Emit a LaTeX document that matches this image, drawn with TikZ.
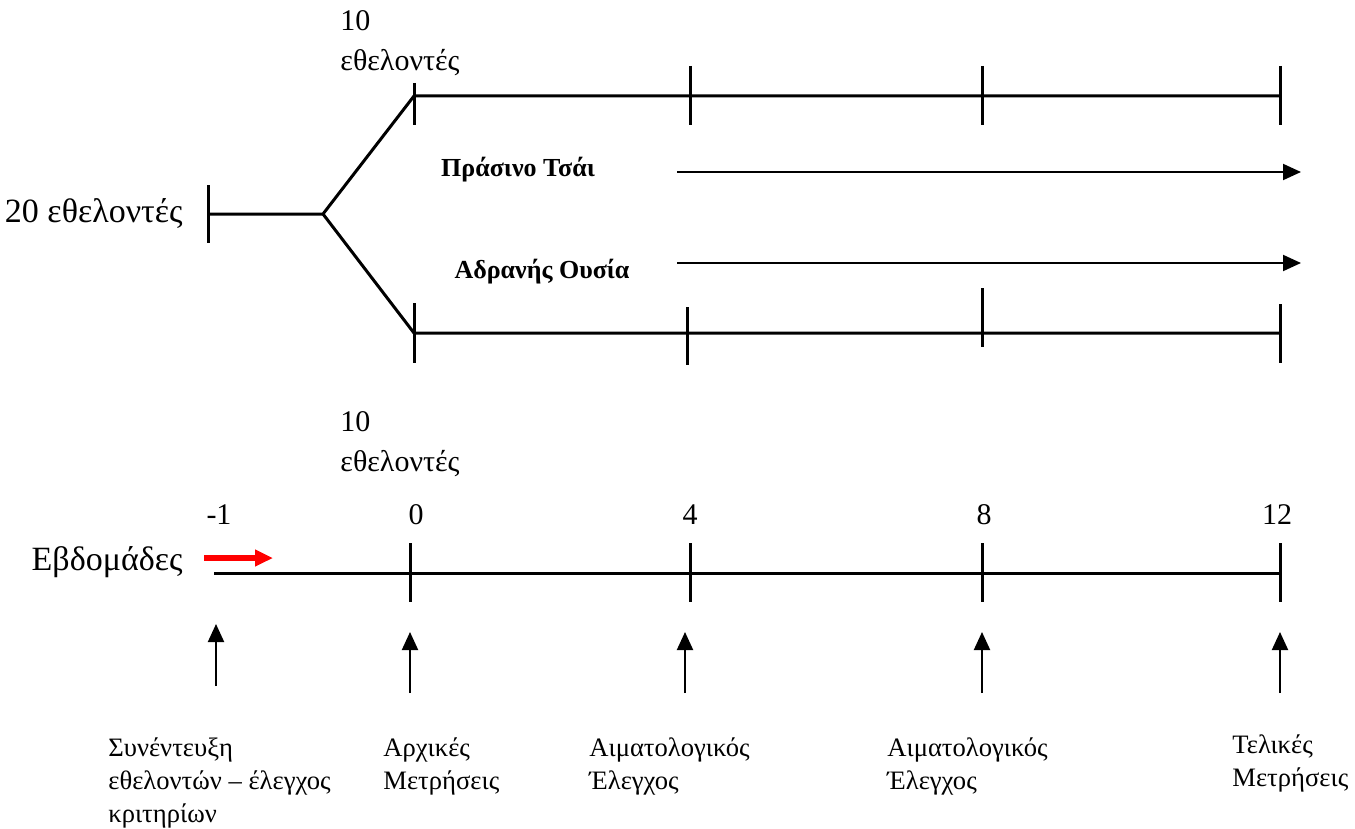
\documentclass[tikz,border=0pt]{standalone}
\usepackage{fontspec}
\setmainfont{Liberation Serif}
\usetikzlibrary{arrows.meta}

\tikzset{
    axisline/.style={line width=1.5pt},
    tickline/.style={line width=1.5pt},
    flowarrow/.style={line width=1pt, -{Triangle[width=8pt,length=9pt]}},
    biglabel/.style={font=\fontsize{15}{20}\selectfont, inner sep=0pt},
    sidelabel/.style={font=\fontsize{17}{20}\selectfont, inner sep=0pt, anchor=east},
    grouplabel/.style={font=\bfseries\fontsize{13}{15}\selectfont, inner sep=0pt},
    steplabel/.style={font=\fontsize{13.3}{16.5}\selectfont, align=left, anchor=north west, inner sep=0pt},
}

\begin{document}
\begin{tikzpicture}[x=0.5pt,y=-0.5pt]
        \useasboundingbox (0,0) rectangle (1355,829);

        % randomisation into two groups
        \coordinate (start) at (208,214);
        \coordinate (split) at (323,214);
        \coordinate (tea0) at (414,96);
        \coordinate (tea12) at (1280,96);
        \coordinate (plc0) at (414,333);
        \coordinate (plc12) at (1280,333);
        \draw[axisline] (start) -- (split) -- (tea0) -- (tea12);
        \draw[axisline] (split) -- (plc0) -- (plc12);

        \draw[tickline] (208,185) -- (208,243);
        \foreach \x/\a/\b in {414/83/125, 690/66/125, 982/66/125, 1280/66/125}
            \draw[tickline] (\x,\a) -- (\x,\b);
        \foreach \x/\a/\b in {414/303/363, 687/307/365, 982/288/347, 1280/304/363}
            \draw[tickline] (\x,\a) -- (\x,\b);

        \node[sidelabel] (all) at (183,214) {20 εθελοντές};
        \node[biglabel, align=left, anchor=north west] (teagrp) at (340,10) {10\\εθελοντές};
        \node[biglabel, align=left, anchor=north west] (plcgrp) at (340,411) {10\\εθελοντές};

        \node[grouplabel] (tea) at (518,170) {Πράσινο Τσάι};
        \node[grouplabel] (plc) at (542,272) {Αδρανής Ουσία};
        \coordinate (teaend) at (1301,172);
        \coordinate (plcend) at (1301,263);
        \draw[flowarrow] (677,172) -- (teaend);
        \draw[flowarrow] (677,263) -- (plcend);

        % weeks
        \coordinate (wkstart) at (214,573);
        \coordinate (wkend) at (1280,573);
        \draw[axisline] (wkstart) -- (wkend);
        \foreach \x in {410, 690, 982, 1280}
            \draw[tickline] (\x,543) -- (\x,602);

        \node[sidelabel] (weeks) at (183,562) {Εβδομάδες};
        \foreach \x/\w in {219/-1, 416/0, 690/4, 984/8, 1277/12}
            \node[biglabel] (w\w) at (\x,515) {\w};
        \draw[red, line width=3pt, -{Triangle[width=8pt,length=9pt]}] (204,558) -- (273,558);

        % what happens at each visit
        \node[steplabel] (s1) at (108,737) {Συνέντευξη\\εθελοντών – έλεγχος\\κριτηρίων};
        \node[steplabel] (s2) at (383,737) {Αρχικές\\Μετρήσεις};
        \node[steplabel] (s3) at (589,737) {Αιματολογικός\\Έλεγχος};
        \node[steplabel] (s4) at (887,737) {Αιματολογικός\\Έλεγχος};
        \node[steplabel] (s5) at (1232,734) {Τελικές\\Μετρήσεις};

        \coordinate (v1) at (216,686);
        \draw[flowarrow] (v1) -- (216,624);
        \foreach \x [count=\i from 2] in {410, 685, 982, 1280} {
            \coordinate (v\i) at (\x,693);
            \draw[flowarrow] (v\i) -- (\x,632);
        }
    \end{tikzpicture}
\end{document}
